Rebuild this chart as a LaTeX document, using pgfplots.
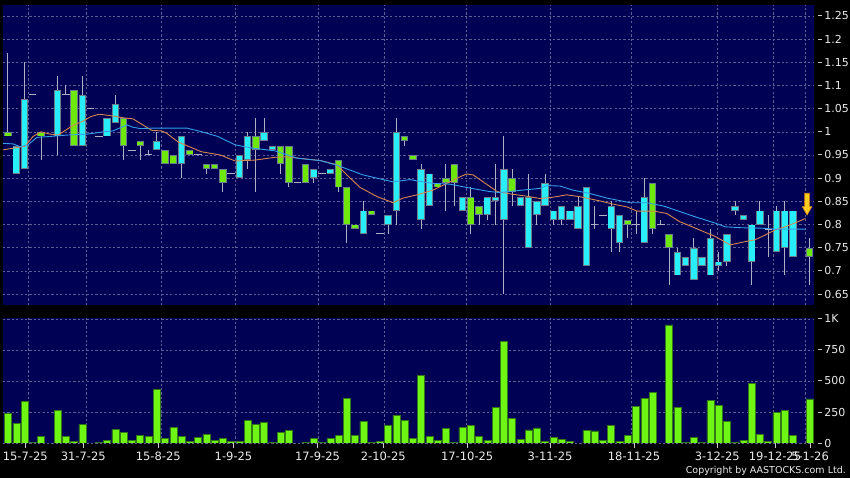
\documentclass[border=0pt]{standalone}
\usepackage{pgfplots}
\usepackage{pgfplotstable}
\pgfplotsset{compat=1.18}
\usepackage{fontspec}
\setmainfont{DejaVu Sans}
\definecolor{navy}{RGB}{0,0,85}
\definecolor{gridc}{RGB}{95,95,150}
\definecolor{cyanc}{RGB}{40,238,250}
\definecolor{greenc}{RGB}{110,232,10}
\definecolor{outl}{RGB}{105,125,140}
\definecolor{wick}{RGB}{175,175,195}
\definecolor{volg}{RGB}{110,245,20}
\definecolor{vold}{RGB}{50,120,20}
\definecolor{maor}{RGB}{215,135,75}
\definecolor{mabl}{RGB}{55,160,235}
\definecolor{txt}{RGB}{235,235,235}
\definecolor{tickc}{RGB}{200,200,200}
\definecolor{arrowy}{RGB}{255,205,30}
\definecolor{arrowo}{RGB}{230,145,20}

% i: index, t: 1 cyan, 2 green, 0 doji, 9 none; o/c body top/bottom; h/l wick; v volume (K)
\pgfplotstableread{
i t o c h l v
0 2 1.00 0.99 1.17 0.99 237
1 1 0.97 0.91 0.97 0.91 156
2 1 1.07 0.92 1.15 0.92 333
3 0 1.08 1.08 1.08 1.08 5
4 2 1.00 0.99 1.00 0.94 51
5 9 nan nan nan nan 0
6 1 1.09 0.99 1.12 0.95 266
7 0 1.08 1.08 1.10 1.08 56
8 2 1.09 0.97 1.09 0.97 11
9 1 1.08 0.97 1.12 0.97 148
10 0 1.05 1.05 1.05 1.05 0
11 0 0.99 0.99 0.99 0.99 5
12 1 1.03 0.99 1.03 0.99 22
13 1 1.06 1.02 1.08 1.02 108
14 2 1.03 0.97 1.03 0.94 86
15 0 0.96 0.96 0.96 0.96 22
16 2 0.98 0.97 0.98 0.94 59
17 0 0.95 0.95 0.96 0.95 51
18 1 0.98 0.96 1.00 0.96 430
19 2 0.96 0.93 0.96 0.93 35
20 2 0.95 0.93 0.95 0.93 124
21 1 0.99 0.93 0.99 0.90 51
22 2 0.96 0.95 0.96 0.95 11
23 0 0.95 0.95 0.95 0.95 43
24 2 0.93 0.92 0.93 0.91 70
25 2 0.93 0.92 0.93 0.92 22
26 2 0.92 0.89 0.92 0.87 40
27 0 0.91 0.91 0.91 0.91 16
28 1 0.95 0.90 0.95 0.90 16
29 1 0.99 0.94 1.00 0.92 185
30 2 0.99 0.96 1.03 0.87 148
31 1 1.00 0.98 1.03 0.98 167
32 1 0.97 0.96 0.97 0.96 3
33 2 0.97 0.93 0.97 0.91 86
34 2 0.97 0.89 0.97 0.88 99
35 0 0.89 0.89 0.89 0.89 0
36 2 0.93 0.89 0.93 0.89 8
37 1 0.92 0.90 0.92 0.89 35
38 0 0.91 0.91 0.91 0.91 8
39 1 0.92 0.91 0.92 0.91 38
40 2 0.94 0.88 0.94 0.87 59
41 2 0.88 0.80 0.88 0.76 360
42 2 0.80 0.79 0.80 0.79 59
43 1 0.83 0.78 0.85 0.78 175
44 2 0.83 0.82 0.83 0.82 3
45 0 0.78 0.78 0.78 0.78 16
46 1 0.82 0.80 0.82 0.78 140
47 1 1.00 0.83 1.03 0.80 220
48 2 0.99 0.98 0.99 0.97 183
49 2 0.95 0.94 0.95 0.94 38
50 1 0.92 0.81 0.93 0.79 543
51 1 0.91 0.84 0.91 0.84 51
52 2 0.89 0.88 0.89 0.88 22
53 2 0.90 0.89 0.93 0.83 116
54 2 0.93 0.89 0.93 0.84 5
55 1 0.86 0.83 0.86 0.83 124
56 2 0.86 0.80 0.88 0.78 142
57 2 0.84 0.82 0.84 0.80 51
58 1 0.86 0.82 0.86 0.81 24
59 1 0.86 0.85 0.93 0.80 290
60 1 0.92 0.81 0.99 0.65 817
61 2 0.90 0.87 0.92 0.84 196
62 1 0.86 0.84 0.86 0.84 27
63 1 0.86 0.75 0.91 0.75 105
64 1 0.85 0.82 0.85 0.80 121
65 1 0.89 0.84 0.91 0.84 16
66 1 0.83 0.81 0.83 0.80 48
67 1 0.84 0.81 0.84 0.80 30
68 1 0.83 0.81 0.83 0.81 13
69 1 0.84 0.79 0.86 0.79 0
70 1 0.88 0.71 0.88 0.71 102
71 0 0.80 0.80 0.84 0.79 97
72 0 0.82 0.82 0.82 0.82 24
73 1 0.84 0.79 0.85 0.74 140
74 1 0.82 0.76 0.82 0.74 16
75 2 0.81 0.80 0.81 0.77 62
76 0 0.80 0.80 0.83 0.78 293
77 1 0.86 0.76 0.90 0.76 358
78 2 0.89 0.79 0.89 0.78 409
79 0 0.80 0.80 0.81 0.80 0
80 2 0.78 0.75 0.78 0.67 952
81 1 0.74 0.69 0.75 0.69 288
82 1 0.73 0.71 0.73 0.71 5
83 1 0.75 0.68 0.77 0.68 43
84 1 0.73 0.71 0.73 0.71 3
85 1 0.77 0.69 0.79 0.69 341
86 1 0.72 0.71 0.74 0.70 306
87 1 0.78 0.72 0.78 0.71 177
88 1 0.84 0.83 0.85 0.82 8
89 1 0.82 0.81 0.82 0.81 24
90 1 0.80 0.72 0.80 0.67 481
91 1 0.83 0.80 0.85 0.80 67
92 0 0.79 0.79 0.82 0.73 13
93 1 0.83 0.74 0.84 0.74 245
94 1 0.83 0.75 0.85 0.69 261
95 1 0.83 0.73 0.83 0.73 59
96 9 nan nan nan nan 0
97 2 0.75 0.73 0.77 0.67 355
}\data

\newcommand\ydash{\textcolor{tickc}{\rule[3.6pt]{4pt}{0.9pt}}\hspace{2.2pt}}

\pgfdeclareplotmark{dnarrow}{%
  \pgfpathmoveto{\pgfqpoint{0pt}{0pt}}%
  \pgfpathlineto{\pgfqpoint{4.7pt}{8.3pt}}%
  \pgfpathlineto{\pgfqpoint{2.3pt}{8.3pt}}%
  \pgfpathlineto{\pgfqpoint{2.3pt}{21.7pt}}%
  \pgfpathlineto{\pgfqpoint{-2.3pt}{21.7pt}}%
  \pgfpathlineto{\pgfqpoint{-2.3pt}{8.3pt}}%
  \pgfpathlineto{\pgfqpoint{-4.7pt}{8.3pt}}%
  \pgfpathclose
  \pgfusepathqfillstroke}

\pgfplotsset{
  panel/.style={
    scale only axis, anchor=south west,
    xmin=-0.605, xmax=97.54,
    axis background/.style={fill=navy},
    axis line style={draw=none},
    grid style={gridc, dash pattern=on 2.2pt off 2.2pt, line width=0.6pt},
    ymajorgrids,
    tick align=outside, major tick length=5pt,
    xtick pos=left,
    ytick pos=right, yticklabel pos=right,
    y tick style={draw=none},
    yticklabel style={font=\fontsize{11}{12}\selectfont, text=txt, inner sep=0pt, anchor=west, xshift=-1pt},
    xticklabel style={font=\fontsize{11.5}{13}\selectfont, text=txt},
  },
  body/.style={draw=none, mark=none, forget plot,
    error bars/y dir=both, error bars/y explicit, error bars/error mark=none},
}

\begin{document}
\begin{tikzpicture}
\fill[black] (0,0) rectangle (850pt,478pt);

% ---------- price panel ----------
\begin{axis}[panel, at={(3pt,173pt)}, width=811pt, height=300pt,
  ymin=0.6263, ymax=1.2737,
  ytick={0.65,0.7,0.75,0.8,0.85,0.9,0.95,1,1.05,1.1,1.15,1.2,1.25},
  yticklabels={\ydash 0.65,\ydash 0.7,\ydash 0.75,\ydash 0.8,\ydash 0.85,\ydash 0.9,\ydash 0.95,\ydash 1,\ydash 1.05,\ydash 1.1,\ydash 1.15,\ydash 1.2,\ydash 1.25},
  xtick={2.46,9.52,18.6,27.47,37.55,45.54,55.51,65.59,75.48,85.89,92.62,96.45},
  xticklabels={}, x tick style={draw=none}, xmajorgrids,
]
% wicks
\addplot[body, restrict expr to domain={\thisrow{t}}{0:2},
  error bars/error bar style={line width=1pt, draw=wick}]
  table[x=i, y expr={(\thisrow{h}+\thisrow{l})/2}, y error expr={(\thisrow{h}-\thisrow{l})/2}]{\data};
% body outlines
\addplot[body, restrict expr to domain={\thisrow{t}}{1:2},
  error bars/error bar style={line width=7.4pt, draw=outl}]
  table[x=i, y expr={(\thisrow{o}+\thisrow{c})/2}, y error expr={(\thisrow{o}-\thisrow{c})/2}]{\data};
% cyan bodies
\addplot[body, restrict expr to domain={\thisrow{t}}{1:1},
  error bars/error bar style={line width=5.6pt, draw=cyanc}]
  table[x=i, y expr={(\thisrow{o}+\thisrow{c})/2}, y error expr={max((\thisrow{o}-\thisrow{c})/2-0.0019,0.0003)}]{\data};
% green bodies
\addplot[body, restrict expr to domain={\thisrow{t}}{2:2},
  error bars/error bar style={line width=5.6pt, draw=greenc}]
  table[x=i, y expr={(\thisrow{o}+\thisrow{c})/2}, y error expr={max((\thisrow{o}-\thisrow{c})/2-0.0019,0.0003)}]{\data};
% dojis
\addplot[only marks, mark=-, mark size=3.7pt, mark options={draw=wick, line width=1pt},
  restrict expr to domain={\thisrow{t}}{0:0}] table[x=i, y=o]{\data};
% moving averages
\addplot[maor, line width=0.9pt, mark=none] coordinates {
(-0.6,0.961) (2.06,0.969) (3.03,0.990) (3.99,1.000) (5.08,0.995) (6.05,0.993) (7.02,1.004) (7.99,1.015) (8.96,1.022) (10.04,1.033) (11.01,1.038) (11.98,1.036) (13.07,1.033) (14.04,1.030) (15.13,1.028) (17.4,1.003) (18.6,1.002) (19.2,0.997) (20.6,0.978) (23.4,0.957) (25.7,0.950) (27.5,0.937) (29.9,0.939) (32.3,0.945) (33.7,0.946) (37.8,0.938) (39.8,0.929) (41.0,0.907) (42.6,0.880) (44.7,0.860) (46.6,0.847) (47.8,0.857) (49.5,0.864) (51.4,0.874) (53.5,0.892) (54.7,0.903) (55.5,0.909) (56.3,0.907) (57.5,0.892) (59.2,0.871) (60.8,0.866) (62.8,0.861) (64.4,0.856) (66.0,0.859) (67.6,0.864) (69.2,0.860) (71.6,0.851) (73.2,0.844) (74.9,0.838) (76.1,0.829) (78.1,0.829) (79.7,0.824) (81.3,0.806) (82.8,0.795) (85.6,0.774) (87.4,0.756) (89.2,0.763) (90.4,0.767) (91.6,0.777) (92.8,0.788) (94.0,0.795) (95.2,0.803) (96.5,0.813)};
\addplot[mabl, line width=0.9pt, mark=none] coordinates {
(-0.6,0.975) (0.6,0.974) (1.45,0.968) (2.42,0.972) (3.51,0.988) (5.08,0.990) (7.14,0.993) (9.56,0.995) (10.77,0.998) (11.5,1.000) (12.7,1.002) (14.4,1.015) (15.1,1.010) (16.0,1.007) (17.55,1.008) (21.66,1.008) (23.48,1.000) (25.4,0.990) (27.47,0.972) (29.5,0.965) (32.3,0.959) (35.0,0.943) (37.76,0.938) (39.8,0.928) (42.96,0.907) (46.6,0.892) (48.65,0.897) (49.5,0.894) (51.4,0.889) (53.5,0.887) (55.5,0.880) (58.3,0.871) (59.5,0.869) (61.6,0.873) (64.4,0.878) (65.2,0.884) (66.8,0.883) (68.4,0.874) (70.4,0.867) (72.5,0.857) (75.3,0.847) (77.3,0.847) (79.3,0.840) (81.3,0.828) (83.1,0.817) (85.6,0.803) (86.8,0.795) (88.8,0.793) (91.25,0.792) (92.8,0.790) (96.5,0.790)};
% marker arrow
\addplot[only marks, mark=dnarrow, mark options={fill=arrowy, draw=arrowo, line width=0.6pt}] coordinates {(96.7,0.8206)};
\end{axis}

% ---------- volume panel ----------
\begin{axis}[panel, at={(3pt,35pt)}, width=811pt, height=125pt,
  ymin=0, ymax=1008,
  ytick={0,250,500,750,1000},
  yticklabels={\ydash 0,\ydash 250,\ydash 500,\ydash 750,\ydash 1K},
  xtick={2.09,9.11,18.19,27.29,37.46,45.42,55.57,65.59,75.76,85.84,92.82,97.06},
  xticklabels={15-7-25,31-7-25,15-8-25,1-9-25,17-9-25,2-10-25,17-10-25,3-11-25,18-11-25,3-12-25,19-12-25,5-1-26},
  x tick style={draw=tickc, line width=0.8pt},
  extra x ticks={2.46,9.52,18.6,27.47,37.55,45.54,55.51,65.59,75.48,85.89,92.62,96.45},
  extra x tick labels={},
  extra x tick style={grid=major, x tick style={draw=none}},
]
\addplot[ybar, bar width=7pt, bar shift=0pt, fill=volg, draw=vold, line width=0.5pt,
  restrict expr to domain={\thisrow{v}}{1:2000}] table[x=i, y=v]{\data};
\end{axis}

\node[anchor=base east, text=txt, font=\fontsize{9.5}{11}\selectfont, inner sep=0pt] at (846pt,4pt) {Copyright by AASTOCKS.com Ltd.};
\pgfresetboundingbox
\useasboundingbox (0,0) rectangle (850pt,478pt);
\end{tikzpicture}
\end{document}
